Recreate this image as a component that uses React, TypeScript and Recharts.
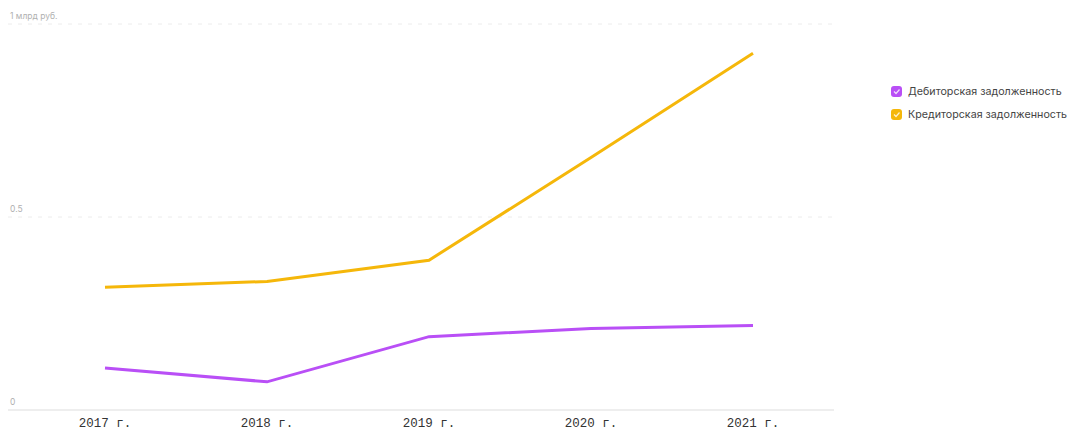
import { CartesianGrid, Line, LineChart, XAxis, YAxis } from "recharts";

const years = ["2017 г.", "2018 г.", "2019 г.", "2020 г.", "2021 г."];
const receivables = [0.109, 0.073, 0.19, 0.211, 0.219];
const payables = [0.318, 0.333, 0.388, 0.654, 0.924];
const yTicks = [0, 0.5, 1];
const yTickLabels: Record<number, string> = { 0: "0", 0.5: "0.5", 1: "1 млрд руб." };

const series = [
  { key: "receivables", name: "Дебиторская задолженность", color: "#b94ff6" },
  { key: "payables", name: "Кредиторская задолженность", color: "#f5b70a" }
];

const data = years.map((year, i) => ({
  year,
  receivables: receivables[i],
  payables: payables[i]
}));

function YTick(props: any) {
  const { y, payload } = props;
  return (
    <text x={10} y={y - 5} fontSize={8.5} fill="#b0b0b0" fontFamily="Inter, sans-serif">
      {yTickLabels[payload.value]}
    </text>
  );
}

function XTick(props: any) {
  const { x, payload } = props;
  return (
    <text x={x} y={427} textAnchor="middle" fontSize={12.5} fill="#333" fontFamily="'Liberation Mono', monospace">
      {payload.value}
    </text>
  );
}

function LegendBox() {
  return (
    <div
      style={{
        position: "absolute",
        left: 891,
        top: 80,
        fontFamily: "Inter, sans-serif",
        fontSize: 10.7,
        color: "#444"
      }}
    >
      {series.map((s) => (
        <div key={s.key} style={{ display: "flex", alignItems: "center", height: 23 }}>
          <svg width={11} height={11} style={{ marginRight: 6 }}>
            <rect x={0} y={0} width={11} height={11} rx={3} fill={s.color} />
            <path d="M3 5.5 L5 7.5 L8.5 3.5" stroke="#fff" strokeWidth={1.2} fill="none" opacity={0.8} />
          </svg>
          <span style={{ whiteSpace: "nowrap" }}>{s.name}</span>
        </div>
      ))}
    </div>
  );
}

export default function App() {
  return (
    <div style={{ position: "absolute", left: 0, top: 0, width: 1067, height: 430, background: "#fff", overflow: "hidden" }}>
      <LineChart width={1067} height={430} data={data} margin={{ top: 24, right: 233, left: 0, bottom: 0 }}>
        <CartesianGrid vertical={false} stroke="#ececec" strokeDasharray="4 6" />
        <XAxis
          dataKey="year"
          padding={{ left: 97, right: 81 }}
          axisLine={{ stroke: "#eeeeee", strokeWidth: 2 }}
          tickLine={false}
          tick={<XTick />}
          interval={0}
          height={20}
        />
        <YAxis
          width={8}
          domain={[0, 1]}
          ticks={yTicks}
          axisLine={false}
          tickLine={false}
          tick={<YTick />}
        />
        {series.map((s) => (
          <Line
            key={s.key}
            type="linear"
            dataKey={s.key}
            name={s.name}
            stroke={s.color}
            strokeWidth={3}
            dot={false}
            isAnimationActive={false}
          />
        ))}
      </LineChart>
      <LegendBox />
    </div>
  );
}
